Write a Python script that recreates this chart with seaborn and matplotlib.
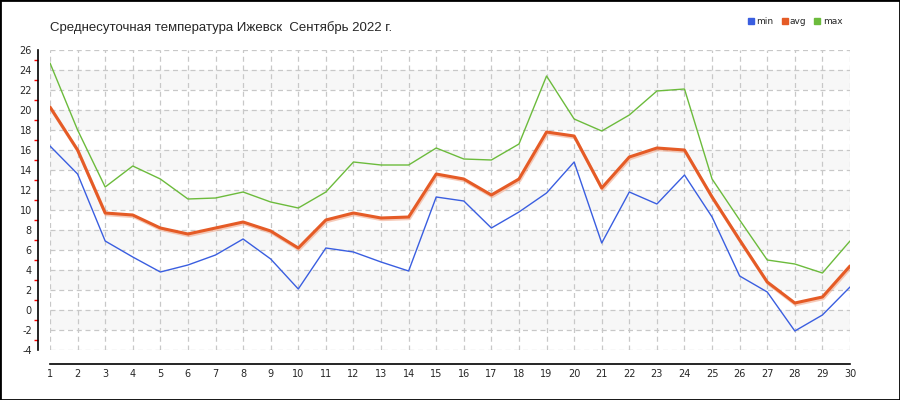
import pandas as pd
import matplotlib
matplotlib.use("Agg")
import matplotlib.pyplot as plt
import matplotlib.patheffects as pe
from matplotlib.lines import Line2D
from matplotlib.patches import Rectangle
import seaborn as sns
import numpy as np

days = list(range(1, 31))

t_min = [16.4, 13.6, 6.9, 5.3, 3.8, 4.5, 5.5, 7.1, 5.1, 2.1,
         6.2, 5.8, 4.8, 3.9, 11.3, 10.9, 8.2, 9.8, 11.7, 14.8,
         6.7, 11.8, 10.6, 13.5, 9.3, 3.4, 1.8, -2.1, -0.5, 2.3]

t_avg = [20.3, 16.0, 9.7, 9.5, 8.2, 7.6, 8.2, 8.8, 7.9, 6.2,
         9.0, 9.7, 9.2, 9.3, 13.6, 13.1, 11.5, 13.1, 17.8, 17.4,
         12.2, 15.3, 16.2, 16.0, 11.3, 7.0, 2.8, 0.7, 1.3, 4.4]

t_max = [24.7, 18.0, 12.3, 14.4, 13.1, 11.1, 11.2, 11.8, 10.8, 10.2,
         11.8, 14.8, 14.5, 14.5, 16.2, 15.1, 15.0, 16.6, 23.4, 19.1,
         17.9, 19.5, 21.9, 22.1, 13.1, 9.0, 5.0, 4.6, 3.7, 6.9]

series_names = ["min", "avg", "max"]
series_colors = ["#3a5ee0", "#e55b26", "#6cbb3c"]

df = pd.DataFrame({"day": days, "min": t_min, "avg": t_avg, "max": t_max})

sns.set_style("white")
plt.rcParams["font.family"] = ["DejaVu Sans"]
plt.rcParams["axes.unicode_minus"] = False

fig = plt.figure(figsize=(9, 4), dpi=100)
ax = fig.add_axes([50 / 900, 50 / 400, 800 / 900, 300 / 400])

# shaded bands every 4 degrees
for lo in range(-2, 26, 4):
    ax.axhspan(lo, lo + 2, color="#f7f7f7", zorder=0, lw=0)

# min / max thin lines
sns.lineplot(data=df, x="day", y="min", ax=ax, color=series_colors[0], lw=1, zorder=3)
sns.lineplot(data=df, x="day", y="max", ax=ax, color=series_colors[2], lw=1, zorder=3)

# avg thick line with soft shadow
sns.lineplot(data=df, x="day", y="avg", ax=ax, color=series_colors[1], lw=2.2, zorder=4,
             path_effects=[pe.SimpleLineShadow(offset=(0.6, -1.2), shadow_color="#f0a080", alpha=0.55),
                           pe.Normal()])

ax.set_xlim(1, 30)
ax.set_ylim(-4, 26)
ax.set_xticks(days)
ax.set_yticks(range(-4, 27, 2))
ax.set_yticks(range(-3, 26, 2), minor=True)
ax.set_xlabel("")
ax.set_ylabel("")

ax.grid(True, which="major", color="#c8c8c8", linestyle=(0, (4, 3)), lw=0.9)
ax.set_axisbelow(True)

for s in ["top", "right"]:
    ax.spines[s].set_visible(False)
ax.spines["left"].set_position(("outward", 9))
ax.spines["bottom"].set_position(("outward", 10))
ax.spines["left"].set_color("black")
ax.spines["bottom"].set_color("black")
ax.spines["left"].set_linewidth(1.2)
ax.spines["bottom"].set_linewidth(1.2)

ax.tick_params(axis="x", which="major", direction="inout", length=6, width=1,
               color="black", labelsize=7, pad=1)
ax.tick_params(axis="y", which="major", direction="inout", length=6, width=1,
               color="black", labelsize=7, pad=1)
ax.tick_params(axis="y", which="minor", direction="out", length=3, width=1,
               color="red", left=True)

fig.text(50 / 900, 1 - 28 / 400, "Среднесуточная температура Ижевск  Сентябрь 2022 г.",
         fontsize=9.5, family="Liberation Sans", va="center", ha="left")

handles = [Line2D([], [], marker="s", linestyle="", color=c, markersize=4.5)
           for c in series_colors]
fig.legend(handles, series_names, loc="center", bbox_to_anchor=(795 / 900, 1 - 22 / 400),
           ncol=3, frameon=False, fontsize=6.5, handlelength=0.8, handletextpad=0.2,
           columnspacing=0.8)

fig.patches.append(Rectangle((0, 0), 1, 1, transform=fig.transFigure, fill=False,
                             edgecolor="black", lw=2, zorder=10))

fig.savefig("out.png", dpi=100, facecolor="white")
